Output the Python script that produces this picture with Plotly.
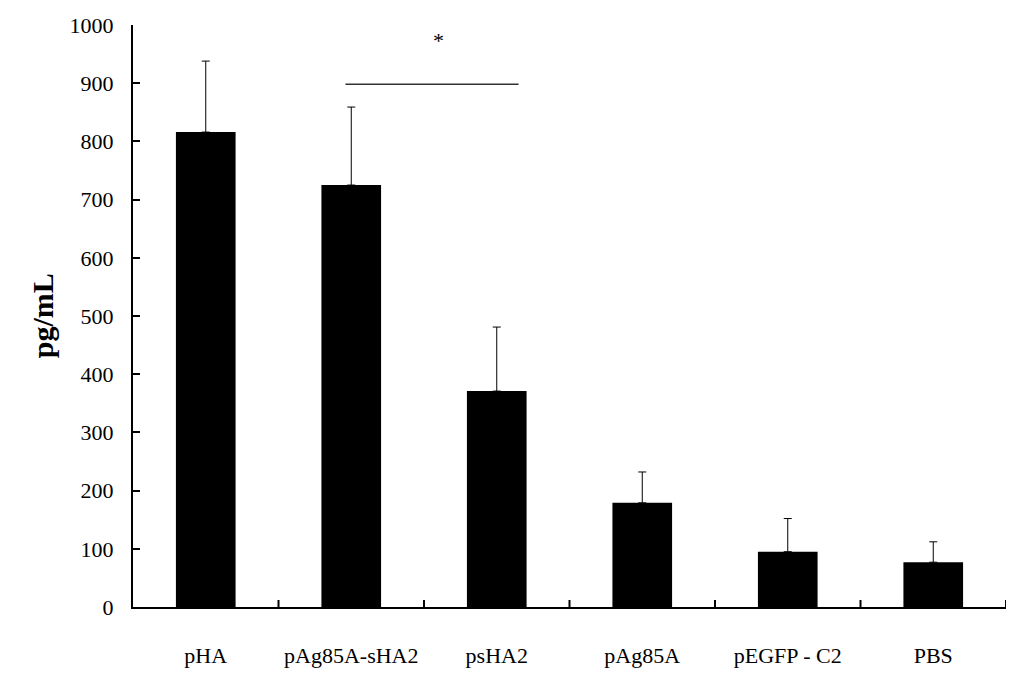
import plotly.graph_objects as go

categories = ["pHA", "pAg85A-sHA2", "psHA2", "pAg85A", "pEGFP - C2", "PBS"]
values = [816, 725, 371, 179, 95, 77]
errors = [122, 134, 110, 53, 57, 35]
y_ticks = [0, 100, 200, 300, 400, 500, 600, 700, 800, 900, 1000]

sig_from, sig_to, sig_level = 0.96, 2.15, 898
sig_label = "*"

FONT = "Liberation Serif"

fig = go.Figure()
fig.add_trace(go.Bar(
    x=list(range(len(categories))), y=values, width=0.41,
    marker=dict(color="black", line=dict(width=0)),
    error_y=dict(type="data", array=errors, arrayminus=[0]*len(errors),
                 symmetric=False, color="black", thickness=1, width=4),
))
fig.add_shape(type="line", x0=sig_from, x1=sig_to, y0=sig_level, y1=sig_level,
              xref="x", yref="y", line=dict(color="#333333", width=1.5))
fig.add_annotation(x=1.6, y=974, xref="x", yref="y",
                   text=sig_label, showarrow=False,
                   font=dict(family=FONT, size=22, color="black"))
fig.add_annotation(x=-0.104, y=0.5, xref="paper", yref="paper", text="<b>pg/mL</b>",
                   textangle=-90, showarrow=False, xanchor="center", yanchor="middle",
                   font=dict(family=FONT, size=30, color="black"))

fig.update_layout(
    width=1016, height=668,
    margin=dict(l=125, r=18, t=17, b=69, autoexpand=False),
    plot_bgcolor="white", paper_bgcolor="white",
    showlegend=False,
    font=dict(family=FONT, size=22, color="black"),
    xaxis=dict(
        range=[-0.5, len(categories)-0.5], automargin=False,
        tickmode="array", tickvals=list(range(len(categories))), ticktext=categories,
        tickfont=dict(family=FONT, size=22, color="black"),
        showline=True, linecolor="black", linewidth=2,
        ticks="", showgrid=False, zeroline=False,
        ticklabelstandoff=28,
    ),
    yaxis=dict(
        range=[0, 1000], tickvals=y_ticks, automargin=False,
        tickfont=dict(family=FONT, size=22, color="black"),
        showline=True, linecolor="black", linewidth=2,
        ticks="inside", ticklen=7, tickwidth=2, tickcolor="black",
        showgrid=False, zeroline=False, ticklabelstandoff=13,
    ),
)
# x-axis boundary ticks (inside, pointing up) at category edges
for b in [i + 0.5 for i in range(len(categories))]:
    fig.add_shape(type="line", x0=b, x1=b, y0=0, y1=12, xref="x", yref="y",
                  line=dict(color="black", width=2))

fig.write_html("out.html")
